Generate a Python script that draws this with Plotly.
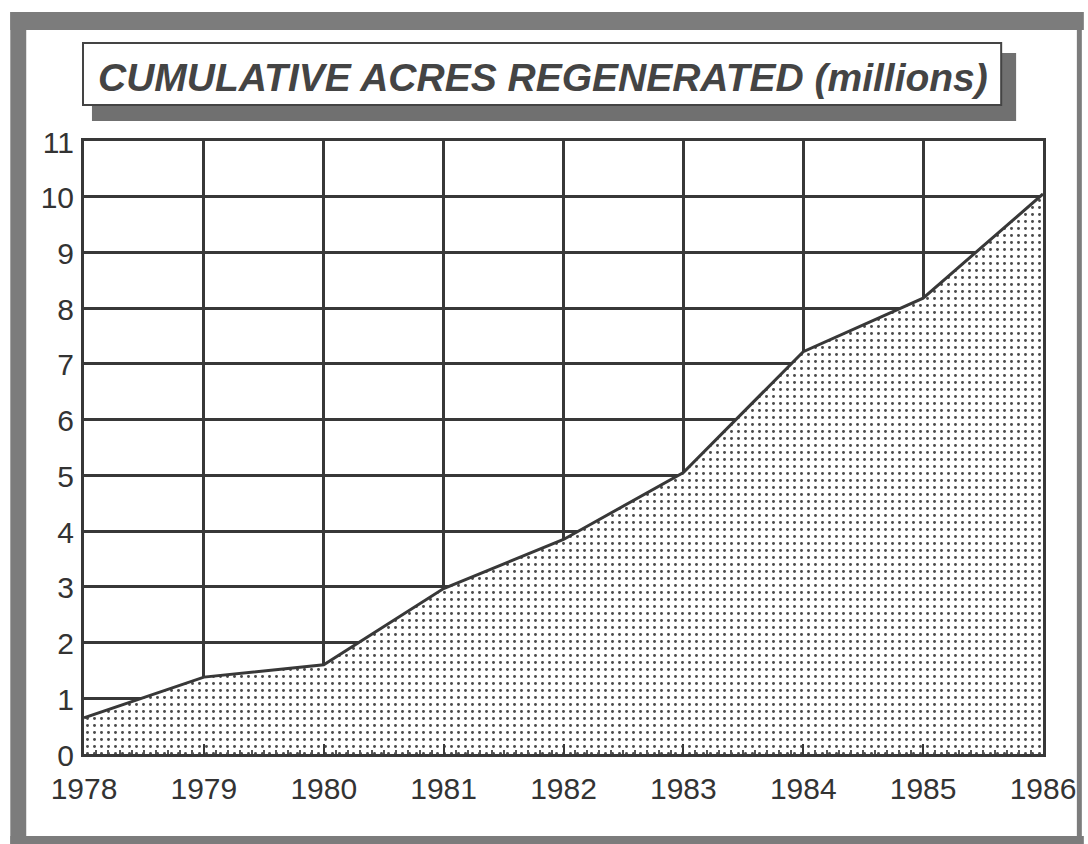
import plotly.graph_objects as go

# Cumulative acres regenerated, millions, year-end
years = [1978, 1979, 1980, 1981, 1982, 1983, 1984, 1985, 1986]
acres_millions = [0.65, 1.38, 1.60, 2.97, 3.85, 5.05, 7.22, 8.18, 10.05]

x_ticks = [1978, 1979, 1980, 1981, 1982, 1983, 1984, 1985, 1986]
y_ticks = list(range(0, 12))

title_text = "CUMULATIVE ACRES REGENERATED (millions)"

W, H = 1088, 844
ML, MR, MT, MB = 84, 41, 141, 90
PW, PH = W - ML - MR, H - MT - MB

INK = "#383838"
FRAME = "#7c7c7c"


def px(x):
    return (x - ML) / PW


def py(y):
    return (H - MB - y) / PH


fig = go.Figure()

fig.add_trace(go.Scatter(
    x=years,
    y=acres_millions,
    mode="lines",
    line=dict(color=INK, width=3),
    fill="tozeroy",
    fillcolor="white",
    fillpattern=dict(shape=".", size=7, solidity=0.14,
                     fgcolor="#4a4a4a", bgcolor="white", fillmode="replace"),
    showlegend=False,
    hoverinfo="skip",
))

axis_font = dict(family="Liberation Sans, Arial, sans-serif", size=30, color="#333333")

fig.update_xaxes(
    range=[1978, 1986],
    tickvals=x_ticks,
    ticktext=[str(v) for v in x_ticks],
    tickfont=axis_font,
    showgrid=True, gridcolor=INK, gridwidth=3,
    showline=True, linecolor=INK, linewidth=3, mirror=True,
    ticks="inside", ticklen=10, tickwidth=2, tickcolor=INK,
    minor=dict(dtick=0.1, tick0=1978, ticks="inside", ticklen=4,
               tickwidth=1.5, tickcolor="#555555", showgrid=False),
    ticklabelstandoff=6,
    zeroline=False,
    fixedrange=True,
)
fig.update_yaxes(
    range=[0, 11],
    tickvals=y_ticks,
    ticktext=[str(v) for v in y_ticks],
    tickfont=axis_font,
    showgrid=True, gridcolor=INK, gridwidth=3,
    showline=True, linecolor=INK, linewidth=3, mirror=True,
    ticks="",
    ticklabelstandoff=1,
    ticklabelshift=1,
    zeroline=False,
    fixedrange=True,
)

shapes = []
# outer frame bands
for (x0, y0, x1, y1) in [(10, 12, 26, 844), (10, 12, 1088, 30),
                         (1081, 12, 1086, 844), (10, 836, 1088, 844)]:
    shapes.append(dict(type="rect", xref="paper", yref="paper",
                       x0=px(x0), x1=px(x1), y0=py(y1), y1=py(y0),
                       fillcolor=FRAME, line=dict(width=0), layer="below"))
# title box shadow and box
shapes.append(dict(type="rect", xref="paper", yref="paper",
                   x0=px(92), x1=px(1020), y0=py(121), y1=py(53),
                   fillcolor="#707070", line=dict(width=0)))
shapes.append(dict(type="rect", xref="paper", yref="paper",
                   x0=px(83), x1=px(1005), y0=py(105), y1=py(43),
                   fillcolor="white", line=dict(color="#444444", width=2)))

fig.add_annotation(
    text=title_text,
    xref="paper", yref="paper",
    x=px(545), y=py(78),
    xanchor="center", yanchor="middle",
    showarrow=False,
    font=dict(family="Liberation Sans, Arial, sans-serif", size=39,
              color="#444444", weight="bold", style="italic"),
)

fig.update_layout(
    width=W, height=H,
    margin=dict(l=ML, r=MR, t=MT, b=MB, pad=0),
    paper_bgcolor="white",
    plot_bgcolor="white",
    shapes=shapes,
    showlegend=False,
)

fig.write_html("out.html", config={"displayModeBar": False})
